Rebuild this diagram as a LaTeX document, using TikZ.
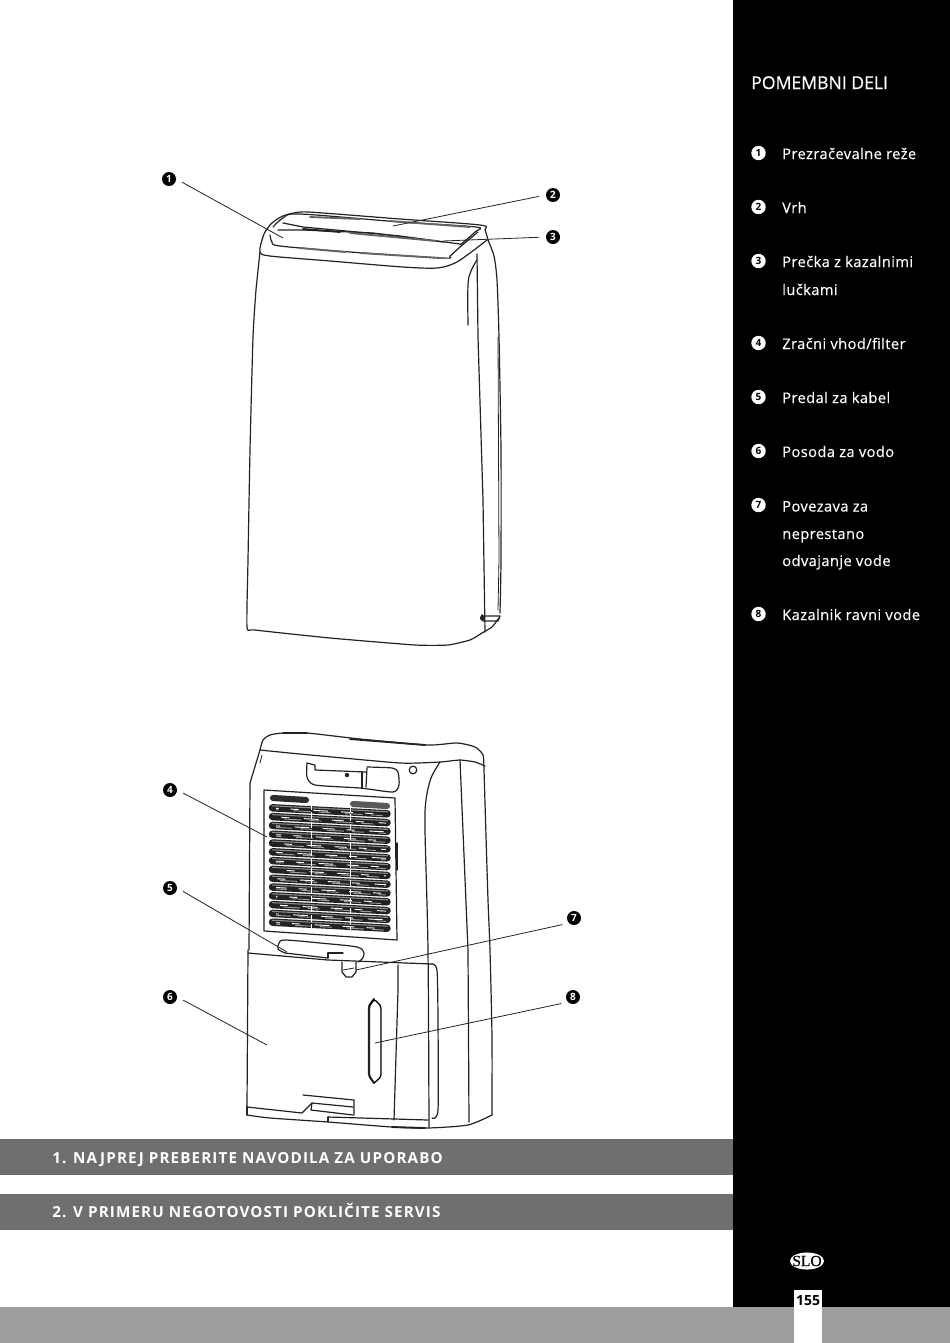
\documentclass[tikz,border=0pt]{standalone}
\usepackage{fontspec}
\usetikzlibrary{shapes.geometric}
\setmainfont{Open Sans}
\newfontfamily\headf[FakeBold=0.4]{Open Sans}
\newfontfamily\spaced[LetterSpace=7.4]{Open Sans}
\newfontfamily\tracked[LetterSpace=2.8,FakeBold=0.3]{Open Sans}
\newfontfamily\serifslo[FakeBold=0.4]{Liberation Serif}
\definecolor{barg}{HTML}{6F6F6F}
\definecolor{footg}{HTML}{9D9E9D}
\definecolor{ink}{HTML}{222222}
\tikzset{
  outline/.style={draw=ink,line width=0.9pt,line join=round,line cap=round},
  thin outline/.style={draw=ink,line width=0.6pt,line join=round,line cap=round},
  heavy outline/.style={draw=ink,line width=1.4pt,line cap=round},
  leader/.style={draw=ink,line width=0.6pt,shorten <=5pt},
  badge/.style={circle,fill=black,text=white,inner sep=0pt,minimum size=10.5pt,font=\bfseries\fontsize{7.5}{8}\selectfont},
  pbadge/.style={circle,fill=white,text=black,inner sep=0pt,minimum size=10.8pt,font=\bfseries\fontsize{7.5}{8}\selectfont},
  item/.style={anchor=base west,text=white,inner sep=0pt,font=\tracked\fontsize{11}{12}\selectfont},
  bartext/.style={anchor=base west,text=white,inner sep=0pt,font=\spaced\bfseries\fontsize{11.4}{12}\selectfont}
}
\begin{document}
\begin{tikzpicture}[x=0.75pt,y=-0.75pt]
\useasboundingbox (0,0) rectangle (950,1343);
\fill[white] (0,0) rectangle (950,1343);
% panels
\fill[black] (733,0) rectangle (950,1307);
\fill[footg] (0,1307) rectangle (950,1343);
\fill[barg] (0,1139) rectangle (733,1175);
\fill[barg] (0,1194) rectangle (733,1230);
\fill[white] (794,1290) rectangle (822,1343);
% panel text
\node[anchor=base west,text=white,inner sep=0pt,font=\headf\fontsize{13.2}{14}\selectfont] (head) at (751,89) {POMEMBNI DELI};
\foreach \n/\y in {1/153,2/207,3/261,4/343,5/397,6/451,7/505,8/614}
  \node[pbadge] (p\n) at (758.5,\y) {\n};
\node[item] (i1) at (782,159) {Prezračevalne reže};
\node[item] (i2) at (782,213) {Vrh};
\node[item] (i3) at (782,267) {Prečka z kazalnimi};
\node[item] (i3b) at (782,295) {lučkami};
\node[item] (i4) at (782,349) {Zračni vhod/filter};
\node[item] (i5) at (782,403) {Predal za kabel};
\node[item] (i6) at (782,457) {Posoda za vodo};
\node[item] (i7) at (782,511.5) {Povezava za};
\node[item] (i7b) at (782,539) {neprestano};
\node[item] (i7c) at (782,566) {odvajanje vode};
\node[item] (i8) at (782,620) {Kazalnik ravni vode};
\node[bartext] (b1) at (52,1163) {1. NAJPREJ PREBERITE NAVODILA ZA UPORABO};
\node[bartext] (b2) at (52,1217) {2. V PRIMERU NEGOTOVOSTI POKLIČITE SERVIS};
\node[ellipse,fill=white,text=black,inner sep=0pt,minimum width=25.5pt,minimum height=12.8pt,font=\serifslo\fontsize{11.6}{12}\selectfont] (slo) at (807,1261) {\makebox[0pt]{SLO}};
\node[text=black,inner sep=0pt,font=\bfseries\fontsize{10.5}{12}\selectfont] (page) at (808,1301) {155};

% ---- front unit ----
\draw[outline] plot[smooth,tension=.5] coordinates {(262,240) (265,232) (272,223) (283,216) (300,212) (323,213) (400,219) (480,225) (485,230) (488,240)};
\draw[outline] plot[smooth,tension=.5] coordinates {(273,227) (283,218) (300,214) (400,222) (476,227) (475,232) (460,245)};
\draw[outline] (283,223) -- (303,227) -- (400,236) -- (460,244);
\draw[outline] (278,230) -- (303,230) -- (373,233) -- (443,242);
\draw[heavy outline] (303,229) -- (340,232);
\draw[heavy outline,draw=ink!70] (350,233) -- (436,241);
\draw[heavy outline,draw=ink!70] (310,217) -- (360,219);
\draw[heavy outline,draw=ink!70] (390,221) -- (470,227);
\draw[outline] plot[smooth,tension=.5] coordinates {(270,235) (272,242) (280,246) (350,252) (443,258) (450,256) (460,247) (478,232)};
\draw[heavy outline,draw=ink!70] (300,248) -- (345,252);
\draw[heavy outline,draw=ink!70] (360,253) -- (440,258);
\draw[outline] plot[smooth,tension=.5] coordinates {(262,240) (260,252) (270,256) (330,261) (403,267) (437,268) (455,263) (470,253) (487,240)};
\draw[outline] plot[smooth,tension=.3] coordinates {(260,252) (256,290) (253,337) (250,450) (248,560) (247,627) (255,630) (330,638) (415,645) (448,645) (470,640) (482,633) (492,627) (499,618)};
\draw[outline] plot[smooth,tension=.4] coordinates {(488,240) (494,256) (497,280) (499,337) (501,450) (501,560) (500,613)};
\draw[thin outline] (498,337) -- (499,560) -- (498,610);
\draw[outline] (477,254) -- (478,337) -- (483,500) -- (485,632);
\draw[outline] plot[smooth,tension=.6] coordinates {(477,260) (471,271) (468,285) (468,325)};
\draw[heavy outline] (482,615) -- (482,620);
\draw[outline] (483,616) -- (500,616) -- (498,621) -- (483,621) -- cycle;
\fill[ink] (482,618) circle (2.2);

% ---- back unit ----
\draw[outline] plot[smooth,tension=.4] coordinates {(260,750) (263,740) (270,735) (283,733) (307,733) (360,739) (427,745) (457,743) (475,747) (483,755) (484,770) (485,803) (488,900) (490,950) (492,1037) (492,1115)};
\draw[outline] plot[smooth,tension=.3] coordinates {(260,750) (300,754) (400,763) (440,762) (460,760) (475,762) (485,766)};
\draw[heavy outline] (283,733) -- (307,733);
\draw[heavy outline] (350,739) -- (425,745);
\draw[outline] (260,750) -- (250,783) -- (249,950);
\draw[outline] (248,950) -- (247,1108) -- (247,1115);
\draw[outline] plot[smooth,tension=.5] coordinates {(440,762) (431,778) (426,800) (425,830) (428,950) (429,1127)};
\draw[outline] (460,760) -- (468,950) -- (469,1122);
\draw[outline] plot[smooth,tension=.4] coordinates {(247,1115) (270,1118) (328,1122) (392,1127) (428,1128) (468,1125) (492,1115)};
% handle recess
\draw[outline] plot[smooth,tension=.4] coordinates {(307,763) (307,777) (315,785) (360,788) (393,792) (399,785) (398,772) (392,768) (367,767)};
\draw[outline] (307,763) -- (315,765) -- (315,770) -- (366,772);
\draw[outline] (367,768) -- (366,787);
\draw[outline] (362,772) -- (362,788);
\fill[ink] (347,775) circle (2.2);
\draw[outline] (413,770) circle (3.8);
\draw[thin outline] (262,755) -- (260,763);
% grille
\draw[outline] (264,790) -- (395,798) -- (397,940) -- (264,931) -- cycle;
\draw[heavy outline] (397,843) -- (397,870);
\draw[draw=ink!95,line width=4.6pt,line cap=round] (273,798) -- (306,800);
\draw[draw=ink!75,line width=4.6pt,line cap=round] (353,804) -- (387,806);
\foreach \i in {1,...,14}{
  \pgfmathsetmacro{\yl}{799+\i*8.8}
  \pgfmathsetmacro{\yr}{\yl+6}
  \pgfmathsetmacro{\ph}{mod(\i*7,23)}
  \draw[draw=ink,line width=5.6pt,line cap=round] (272.5,\yl) -- (387,\yr);
  \draw[draw=barg!80,line width=0.8pt] (272,\yl-2) -- (388,\yr-2);
  \draw[draw=white,line width=0.7pt,dash pattern=on 9pt off 9pt on 6pt off 11pt on 11pt off 10pt,dash phase=\ph pt] (276,\yl+0.5) -- (386,\yr+0.5);
  \draw[draw=barg!70,line width=0.7pt,dash pattern=on 9pt off 11pt on 13pt off 6pt,dash phase=\ph pt] (276,\yl+2) -- (386,\yr+2);
}
\draw[draw=white,line width=0.6pt,dash pattern=on 5pt off 2pt] (311,803) -- (311,929);
\draw[draw=white,line width=0.7pt,dash pattern=on 5pt off 2pt] (350,805) -- (350,931);
% cable drawer
\draw[outline] plot[smooth,tension=.5] coordinates {(285,953) (278,949) (279,943) (285,940) (320,943) (357,947) (364,953) (362,959) (358,962)};
\draw[outline] (285,953) -- (328,958);
\draw[outline] (328,958) -- (328,953) -- (343,953);
% water tank
\draw[outline] (248,953) -- (328,960) -- (432,964);
\draw[outline] plot[smooth,tension=.4] coordinates {(432,964) (437,970) (438,1020) (438,1110) (432,1118)};
\draw[outline] (398,965) -- (398,990) -- (394,1120);
\draw[outline] (342,962) -- (342,972) -- (346,977) -- (352,977) -- (356,972) -- (356,962);
\draw[thin outline] (343,970) -- (354,968);
\draw[draw=ink,line width=1.6pt,line cap=round,rounded corners=2pt] (374,1083) -- (369,1076) -- (369,1006) -- (374,999);
\draw[draw=black,line width=1pt,line join=round,rounded corners=2pt] (369,1006) -- (374,999) -- (381,1006) -- (381,1077) -- (374,1083);
\draw[outline] (247,1107) -- (302,1113) -- (312,1103) -- (353,1107);
\draw[outline] (303,1095) -- (354,1100) -- (354,1115);
\draw[outline] (312,1103) -- (311,1110) -- (353,1115);
\draw[outline] (247,1107) -- (247,1115);
\draw[outline] (328,1117) -- (328,1122);
\draw[outline] (328,1117) -- (428,1120);
\draw[heavy outline] (392,1127) -- (425,1128);

% ---- leaders ----
\node[badge] (n1) at (169,179) {1};
\node[badge] (n2) at (553,195) {2};
\node[badge] (n3) at (553,237) {3};
\node[badge] (n4) at (170,790) {4};
\node[badge] (n5) at (170,888) {5};
\node[badge] (n6) at (170,997) {6};
\node[badge] (n7) at (574,918) {7};
\node[badge] (n8) at (573,997) {8};
\coordinate (t1) at (283,238);
\coordinate (t2) at (393,226);
\coordinate (t3) at (443,241);
\coordinate (t4) at (267,837);
\coordinate (t5) at (287,952);
\coordinate (t6) at (267,1045);
\coordinate (t7) at (356,970);
\coordinate (t8) at (375,1043);
\foreach \k/\a in {1/east,4/east,5/east,6/east,2/west,3/west,7/south west,8/south west}
  \draw[leader] (n\k.\a) -- (t\k);
\end{tikzpicture}
\end{document}
